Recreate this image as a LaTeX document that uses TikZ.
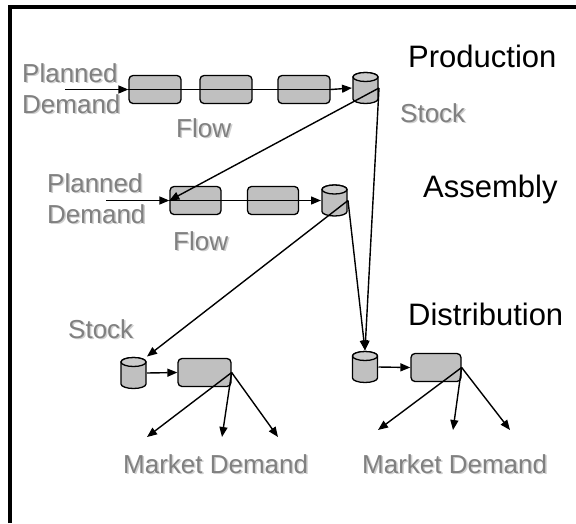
\documentclass[tikz,border=0pt]{standalone}
\usepackage{fontspec}
\setmainfont{Liberation Sans}
\usetikzlibrary{arrows.meta}
\definecolor{boxgray}{HTML}{C0C0C0}
\definecolor{topgray}{HTML}{CCCCCC}
\definecolor{labgray}{HTML}{808080}
\definecolor{shade}{HTML}{CFCFCF}
\newcommand\shadowed[1]{\makebox[0pt][l]{\kern1.5pt\raisebox{-1.5pt}{\textcolor{shade}{#1}}}#1}
\begin{document}
\begin{tikzpicture}[x=1pt,y=-1pt,
 procbox/.style={draw, line width=1.3pt, rounded corners=4pt, fill=boxgray, minimum width=52pt, minimum height=28pt, inner sep=0pt},
 store/.style={rectangle, draw=none, minimum width=26.6pt, minimum height=32.6pt, inner sep=0pt,
   path picture={
     \begin{scope}[shift={(path picture bounding box.center)}, x=1pt, y=1pt, line width=1.3pt]
       \filldraw[fill=boxgray] (-12.5,11) -- (-12.5,-11)
          arc[start angle=180, end angle=360, x radius=12.5, y radius=4.5]
          -- (12.5,11) arc[start angle=0, end angle=180, x radius=12.5, y radius=4.5] -- cycle;
       \filldraw[fill=topgray] (0,11) ellipse[x radius=12.5, y radius=4.5];
     \end{scope}
   }},
 title/.style={anchor=base west, inner sep=0pt, font=\fontsize{31}{37}\selectfont},
 glabel/.style={anchor=base west, inner sep=0pt, text=labgray, font=\fontsize{26}{31}\selectfont},
 conn/.style={line width=1.4pt},
 arr/.style={conn, -{Triangle[length=10pt,width=8pt]}}
]
\fill[white] (0,0) rectangle (576,523);
\useasboundingbox (0,0) rectangle (576,523);
\draw[line width=4pt] (10,523) -- (10,7) -- (576,7);

% titles
\node[title] (tprod) at (408,67) {Production};
\node[title] (tasm) at (423,197) {Assembly};
\node[title] (tdist) at (408,325) {Distribution};

% gray labels
\node[glabel] (pl1) at (22,82) {\shadowed{Planned}};
\node[glabel] (de1) at (22,113) {\shadowed{Demand}};
\node[glabel] (fl1) at (176,137) {\shadowed{Flow}};
\node[glabel] (st1) at (400,122) {\shadowed{Stock}};
\node[glabel] (pl2) at (47,192) {\shadowed{Planned}};
\node[glabel] (de2) at (47,223) {\shadowed{Demand}};
\node[glabel] (fl2) at (173,250) {\shadowed{Flow}};
\node[glabel] (st3) at (68,338) {\shadowed{Stock}};
\node[glabel] (md1) at (123,473) {\shadowed{Market Demand}};
\node[glabel] (md2) at (362,473) {\shadowed{Market Demand}};

% production row
\node[procbox] (b11) at (155,89.5) {};
\node[procbox] (b12) at (226,89.5) {};
\node[procbox] (b13) at (304,89.5) {};
\node[store] (c1) at (365.5,88) {};
\coordinate (pd1) at (65,89.5);

% assembly row
\node[procbox, minimum width=51pt] (a1) at (195.5,200.5) {};
\node[procbox, minimum width=51pt] (a2) at (273,200.5) {};
\node[store] (c2) at (334.5,200.5) {};
\coordinate (pd2) at (106,200.5);

% distribution
\node[store] (c3) at (133.5,373) {};
\node[procbox, minimum width=53pt] (d1) at (204.5,372.5) {};
\node[store] (c4) at (365,367) {};
\node[procbox, minimum width=50pt] (d2) at (436,367.5) {};

\coordinate (m11) at (147,437);
\coordinate (m12) at (222,437);
\coordinate (m13) at (278,437);
\coordinate (m21) at (378,430);
\coordinate (m22) at (453,430);
\coordinate (m23) at (510,430);

% connectors
\draw[arr] (pd1) -- (b11.west);
\draw[conn] (b11.west) -- (b13.east);
\draw[arr] (b13.east) -- (c1.west);
\draw[arr] (pd2) -- (a1.west);
\draw[conn] (a1.west) -- (a2.east);
\draw[arr] (a2.east) -- (c2.west);
\draw[arr] (c1.east) -- (a1.west);
\draw[arr] (c1.east) -- (c4.north);
\draw[arr] (c2.east) -- (c3.north east);
\draw[arr] (c2.east) -- (c4.north);
\draw[arr] (c3.east) -- (d1.west);
\draw[arr] (c4.east) -- (d2.west);
\draw[arr] (d1.east) -- (m11);
\draw[arr] (d1.east) -- (m12);
\draw[arr] (d1.east) -- (m13);
\draw[arr] (d2.east) -- (m21);
\draw[arr] (d2.east) -- (m22);
\draw[arr] (d2.east) -- (m23);
\end{tikzpicture}
\end{document}
